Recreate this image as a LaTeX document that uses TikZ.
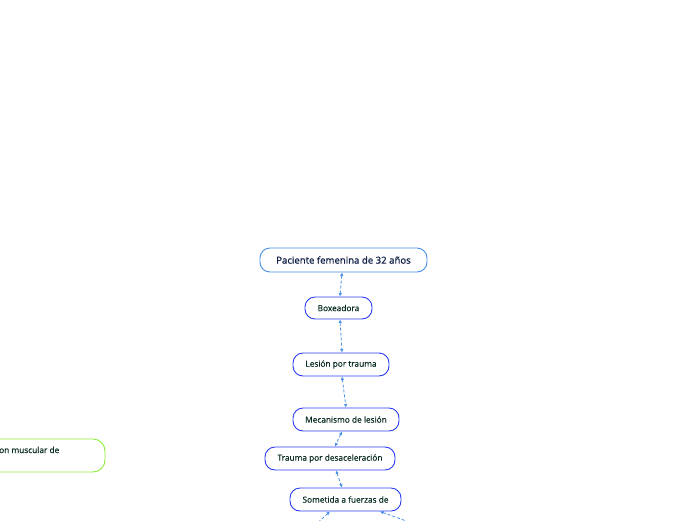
\documentclass[tikz,border=0pt]{standalone}
\usepackage{fontspec}
\setmainfont{Open Sans}
\newfontfamily\semifont[FakeBold=0.6]{Open Sans}
\newfontfamily\boldishfont[FakeBold=1.2]{Open Sans}
\usetikzlibrary{arrows.meta}
\definecolor{txt}{HTML}{0C2E22}
\definecolor{navy}{HTML}{14234A}
\definecolor{bblue}{HTML}{2A3CF5}
\definecolor{lblue}{HTML}{4A8FE6}
\definecolor{lgreen}{HTML}{8EEB3A}
\begin{document}
\begin{tikzpicture}[x=1pt,y=-1pt,
  topic/.style={draw=bblue,line width=0.9pt,rounded corners=10pt,text=txt,font=\semifont\fontsize{8.3}{10}\selectfont,inner sep=0pt,minimum height=22pt},
  link/.style={lblue,line width=0.8pt,dash pattern=on 3pt off 2pt,{Latex[length=3.5pt,width=3.5pt]}-{Latex[length=3.5pt,width=3.5pt]}}]
\useasboundingbox (0,0) rectangle (696,520);
\clip (0,0) rectangle (696,520);
\node[topic,draw=lblue,text=navy,font=\boldishfont\fontsize{9.6}{11}\selectfont,minimum width=167pt,minimum height=24pt] (p) at (343.5,260) {Paciente femenina de 32 años};
\node[topic,minimum width=67pt] (b) at (338.5,308) {Boxeadora};
\node[topic,minimum width=96pt,minimum height=23pt] (l) at (341,364.5) {Lesión por trauma};
\node[topic,minimum width=106pt,minimum height=23pt] (m) at (346,419.5) {Mecanismo de lesión};
\node[topic,minimum width=130pt,minimum height=23pt] (t) at (330,458.5) {Trauma por desaceleración};
\node[topic,minimum width=111pt,minimum height=23pt] (s) at (345.5,499.5) {Sometida a fuerzas de};
\node[draw=lgreen,line width=0.9pt,rounded corners=12pt,minimum width=200pt,minimum height=33pt,inner sep=0pt] (g) at (5,455.5) {};
\node[anchor=base west,text=txt,font=\semifont\fontsize{8.3}{10}\selectfont,inner sep=0pt] (gt) at (-1,453) {on muscular de};
\coordinate (c1) at (312,528);
\coordinate (c2) at (420,526);
\draw[link] (p.south -| 342,0) -- (b.north -| 340,0);
\draw[link] (b.south -| 340,0) -- (l.north -| 342,0);
\draw[link] (l.south -| 342,0) -- (m.north -| 346,0);
\draw[link] (m.south -| 342,0) -- (t.north -| 335,0);
\draw[link] (t.south -| 336,0) -- (s.north -| 342,0);
\draw[link] (s.south -| 330,0) -- (c1);
\draw[link] (s.south -| 380,0) -- (c2);
\end{tikzpicture}
\end{document}
